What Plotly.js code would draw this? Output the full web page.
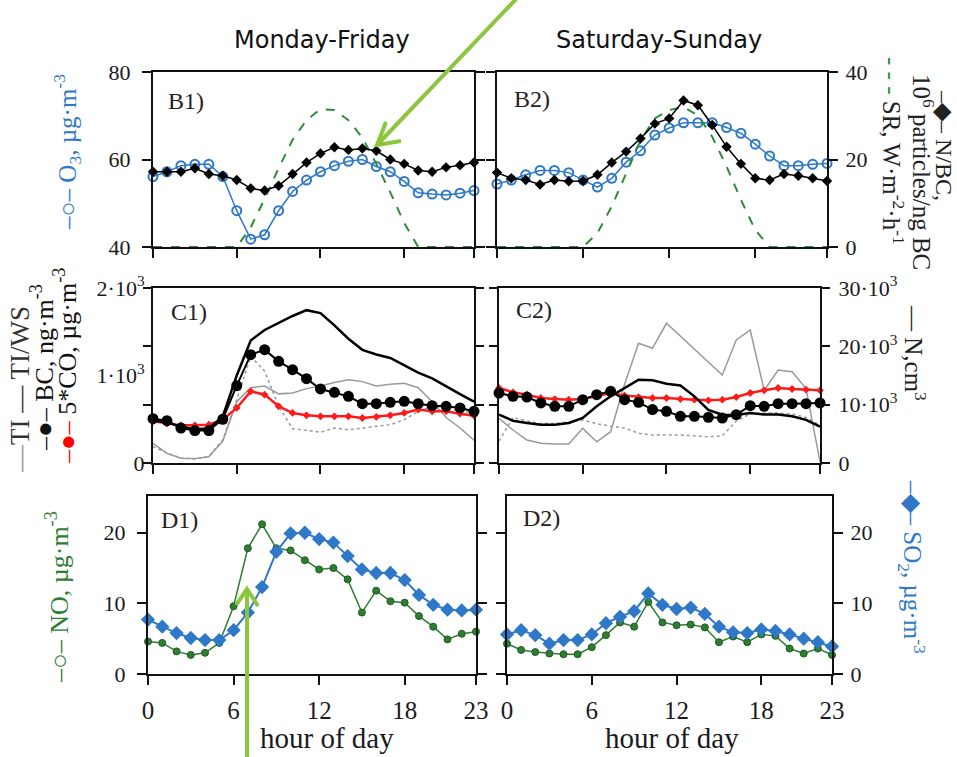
<!DOCTYPE html>
<html><head><meta charset="utf-8">
<script src="https://cdn.plot.ly/plotly-3.0.1.min.js"></script>
<style>html,body{margin:0;padding:0;background:#fff}#chart{width:957px;height:757px}</style>
</head><body><div id="chart"></div>
<script>
// ---------- DATA ----------
const hours = [0,1,2,3,4,5,6,7,8,9,10,11,12,13,14,15,16,17,18,19,20,21,22,23];
const xTickVals = [0,6,12,18,23];
const xTickText = ['0','6','12','18','23'];

// B: O3 (left axis), N/BC and SR (right axis)
const o3Weekday  = [56.1,57.2,58.6,58.9,58.9,56.1,48.3,41.8,42.8,48.3,52.7,55.3,57.2,58.6,59.6,60.0,58.4,57.2,55.0,52.4,52.1,51.9,52.3,52.9];
const nbcWeekday = [17.2,17.2,17.2,18.0,16.7,16.3,15.3,13.4,12.9,14.0,16.7,19.3,21.4,22.8,22.2,22.5,22.0,20.0,19.0,17.5,17.2,18.2,18.7,19.3];
const srWeekday  = [0,0,0,0,0,0,0,4.5,11,18,24.5,29,31.5,31.3,29,25,19,12.5,5.5,0,0,0,0,0];
const o3Weekend  = [54.4,55.3,56.5,57.5,57.5,57.0,55.3,53.7,55.7,59.4,62.0,65.6,67.2,68.4,68.4,68.4,67.3,66.0,63.5,60.8,58.6,58.6,58.9,59.1];
const nbcWeekend = [17.0,15.7,15.3,14.3,15.3,15.0,15.1,16.5,19.3,21.8,24.8,28.2,29.4,33.5,32.4,27.9,22.9,19.0,15.7,15.3,16.7,16.3,15.7,15.1];
const srWeekend  = [0,0,0,0,0,0,0,3.2,9.3,16.8,24.4,29.4,31.3,32.0,30.1,25.2,18.4,10.8,3.9,0,0,0,0,0];

// C: BC, 5*CO, TI, TI/WS (left axis), N (right axis)
const bcWeekday   = [507,484,400,370,370,500,884,1238,1295,1162,1067,964,846,808,762,678,678,693,705,678,655,648,629,591];
const coWeekday   = [476,450,430,430,438,495,629,819,781,648,572,545,533,533,533,514,526,545,572,610,591,591,564,541];
const nWeekday    = [7300,7000,6200,5800,5900,8000,15000,21000,22800,24000,25200,26200,25700,23600,21300,19400,18600,18000,16700,15500,14500,13100,11800,10500];
const tiWeekday   = [225,110,55,50,72,250,700,860,880,790,800,850,880,920,950,930,880,900,910,860,700,520,400,260];
const tiwsWeekday = [190,114,57,46,76,267,724,1219,1050,650,390,375,350,400,380,400,419,438,495,591,648,629,591,572];
const bcWeekend   = [800,762,754,686,648,648,724,781,819,724,693,610,591,533,533,522,514,552,655,648,678,678,678,686];
const coWeekend   = [857,808,781,743,731,724,731,762,800,770,754,743,743,731,724,716,724,754,800,831,857,846,838,831];
const nWeekend    = [8286,7257,6857,6571,6571,6857,7714,9714,11429,12857,14286,14200,13600,13300,11429,9086,8286,8229,8571,8300,8300,8000,7400,6229];
const tiWeekend   = [510,377,263,225,217,217,396,243,358,900,1368,1311,1597,1450,1300,1150,1006,1406,1520,830,1063,1043,850,15];
const tiwsWeekend = [250,520,480,450,450,470,490,450,420,400,340,320,320,320,310,300,310,480,560,570,570,560,520,430];

// D: NO, SO2
const so2Weekday = [7.7,6.7,5.8,5.1,4.8,4.8,6.2,8.7,12.3,17.3,19.9,20.0,19.1,18.6,16.7,14.8,14.3,14.3,13.3,11.2,9.8,9.1,9.0,9.1];
const noWeekday  = [4.6,4.4,3.2,2.7,3.0,4.4,9.6,17.8,21.2,17.8,17.5,16.1,14.8,15.0,13.4,8.7,11.8,10.3,10.1,8.2,6.7,4.9,5.7,6.0];
const so2Weekend = [5.6,6.2,5.5,4.3,4.8,4.8,5.6,7.2,8.1,8.9,11.4,9.8,9.2,9.4,8.5,6.7,5.9,5.8,6.3,6.1,5.6,5.0,4.5,3.9];
const noWeekend  = [4.3,3.4,3.1,2.9,2.8,2.8,3.8,5.5,7.3,6.7,10.2,7.3,6.9,7.0,6.6,4.5,5.3,4.5,5.6,5.4,3.6,2.9,3.6,2.7];

// ---------- STYLE / LAYOUT ----------
const W = 957, H = 757;
const fx = p => p / W, fy = p => 1 - p / H;
const SERIF = '"Liberation Serif","Times New Roman",serif';
const SANS = '"DejaVu Sans",sans-serif';
const BLUE = '#2f78c8', GREEN = '#2e7d32', SRGREEN = '#2e8b3a', RED = '#ff1a1a', GRAY = '#9a9a9a', INK = '#111';

const panels = [
  {xd:[153,474], yd:[72,247],  kind:'B', col:1},
  {xd:[497,827], yd:[72,247],  kind:'B', col:2},
  {xd:[153,474], yd:[288,463], kind:'C', col:1},
  {xd:[499,820], yd:[288,463], kind:'C', col:2},
  {xd:[148,476], yd:[496,674], kind:'D', col:1},
  {xd:[507,832], yd:[496,674], kind:'D', col:2}
];
const scales = {
  B:{lr:[40,80], lt:[40,60,80], ltt:['40','60','80'], rr:[0,40], rt:[0,20,40], rtt:['0','20','40'], lticks:'outside'},
  C:{lr:[0,2000], lt:[0,1000,2000], ltt:['0','1·10<sup>3</sup>','2·10<sup>3</sup>'], rr:[0,30000], rt:[0,10000,20000,30000], rtt:['0','10·10<sup>3</sup>','20·10<sup>3</sup>','30·10<sup>3</sup>'], lticks:''},
  D:{lr:[0,25.2], lt:[0,10,20], ltt:['0','10','20'], rr:[0,25.2], rt:[0,10,20], rtt:['0','10','20'], lticks:'outside'}
};
const sfx = i => (i === 1 ? '' : String(i));

const layout = {
  width: W, height: H, margin:{l:0,r:0,t:0,b:0},
  paper_bgcolor:'#fff', plot_bgcolor:'rgba(0,0,0,0)', showlegend:false,
  font:{family:SERIF, color:INK}, annotations:[], shapes:[]
};
const tickFont = {family:SERIF, size:22, color:'#1a1a22'};

panels.forEach((p, k) => {
  const i = k + 1, s = scales[p.kind];
  layout['xaxis'+sfx(i)] = {
    domain:[fx(p.xd[0]), fx(p.xd[1])], range:[0,23], anchor:'y'+sfx(i),
    showline:true, linewidth:2, linecolor:INK, mirror:true,
    ticks:'outside', ticklen:9, tickwidth:2, tickcolor:INK,
    tickmode:'array', tickvals:xTickVals, ticktext:xTickText,
    showticklabels: p.kind === 'D', tickfont:{family:SERIF,size:25,color:'#1a1a22'}, ticklabelstandoff:4,
    showgrid:false, zeroline:false, fixedrange:true
  };
  layout['xaxis'+(i+6)] = {
    overlaying:'x'+sfx(i), anchor:'y'+sfx(i), side:'bottom', range:[0,23],
    ticks:'inside', ticklen:9, tickwidth:2, tickcolor:INK, tickmode:'array', tickvals:[6,12,18],
    showticklabels:false, showline:false, showgrid:false, zeroline:false
  };
  layout['yaxis'+sfx(i)] = {
    domain:[fy(p.yd[1]), fy(p.yd[0])], range:s.lr, anchor:'x'+sfx(i),
    showline:true, linewidth:2, linecolor:INK, mirror:'ticks',
    ticks:s.lticks, ticklen:9, tickwidth:2, tickcolor:INK,
    tickmode:'array', tickvals:s.lt, ticktext:s.ltt,
    showticklabels: p.col === 1, tickfont:tickFont, ticklabelstandoff: p.kind === 'C' ? 2 : 7,
    showgrid:false, zeroline:false, fixedrange:true
  };
  layout['yaxis'+(i+6)] = {
    overlaying:'y'+sfx(i), side:'right', anchor:'x'+sfx(i), range:s.rr,
    ticks:'outside', ticklen:9, tickwidth:2, tickcolor:INK, mirror:'ticks',
    tickmode:'array', tickvals:s.rt, ticktext:s.rtt,
    showticklabels: p.col === 2, tickfont:tickFont, ticklabelstandoff:4,
    showline:false, showgrid:false, zeroline:false, fixedrange:true
  };
  layout['yaxis'+(i+12)] = {
    overlaying:'y'+sfx(i), side:'left', anchor:'x'+sfx(i), range:s.rr,
    ticks:'inside', ticklen:9, tickwidth:2, tickcolor:INK, mirror:'ticks',
    tickmode:'array', tickvals:s.rt, showticklabels:false,
    showline:false, showgrid:false, zeroline:false
  };
});

// ---------- TRACES ----------
function series(y, i, right, o) {
  const t = {
    x: hours, y: y, xaxis: 'x'+sfx(i), yaxis: right ? 'y'+(i+6) : 'y'+sfx(i),
    mode: o.marker ? 'lines+markers' : 'lines',
    line: {color:o.color, width:o.width || 1.5, dash:o.dash || 'solid'},
    cliponaxis:false, hoverinfo:'skip'
  };
  if (o.marker) t.marker = o.marker;
  return t;
}
const mO3  = {symbol:'circle-open', size:9, color:BLUE, line:{width:2, color:BLUE}};
const mNBC = {symbol:'diamond', size:8, color:'#000'};
const mBC  = {symbol:'circle', size:11, color:'#000'};
const mCO  = {symbol:'diamond', size:6, color:RED};
const mNO  = {symbol:'circle', size:7, color:GREEN, line:{width:1, color:'#1b5e20'}};
const mSO2 = {symbol:'diamond', size:11, color:BLUE};

const data = [
  // B1
  series(srWeekday, 1, true, {color:SRGREEN, width:2, dash:'dash'}),
  series(o3Weekday, 1, false, {color:BLUE, width:1.5, marker:mO3}),
  series(nbcWeekday, 1, true, {color:'#000', width:1.5, marker:mNBC}),
  // B2
  series(srWeekend, 2, true, {color:SRGREEN, width:2, dash:'dash'}),
  series(o3Weekend, 2, false, {color:BLUE, width:1.5, marker:mO3}),
  series(nbcWeekend, 2, true, {color:'#000', width:1.5, marker:mNBC}),
  // C1
  series(tiWeekday, 3, false, {color:GRAY, width:1.5}),
  series(tiwsWeekday, 3, false, {color:GRAY, width:1.5, dash:'dot'}),
  series(nWeekday, 3, true, {color:'#000', width:2.5}),
  series(coWeekday, 3, false, {color:RED, width:2.5, marker:mCO}),
  series(bcWeekday, 3, false, {color:'#000', width:2, marker:mBC}),
  // C2
  series(tiWeekend, 4, false, {color:GRAY, width:1.5}),
  series(tiwsWeekend, 4, false, {color:GRAY, width:1.5, dash:'dot'}),
  series(nWeekend, 4, true, {color:'#000', width:2.5}),
  series(coWeekend, 4, false, {color:RED, width:2.5, marker:mCO}),
  series(bcWeekend, 4, false, {color:'#000', width:2, marker:mBC}),
  // D1
  series(noWeekday, 5, false, {color:GREEN, width:1.5, marker:mNO}),
  series(so2Weekday, 5, true, {color:BLUE, width:2, marker:mSO2}),
  // D2
  series(noWeekend, 6, false, {color:GREEN, width:1.5, marker:mNO}),
  series(so2Weekend, 6, true, {color:BLUE, width:2, marker:mSO2})
];

// ---------- TEXT ----------
function ann(text, x, y, o) {
  layout.annotations.push(Object.assign({
    text: text, xref:'paper', yref:'paper', x: fx(x), y: fy(y),
    xanchor:'center', yanchor:'middle', showarrow:false,
    font:{family:SERIF, size:25, color:INK}
  }, o || {}));
}
ann('Monday-Friday', 322, 40, {font:{family:SANS, size:24, color:INK}});
ann('Saturday-Sunday', 659, 40, {font:{family:SANS, size:24, color:INK}});
ann('hour of day', 327, 738, {font:{family:SERIF, size:29, color:'#1a1a22'}});
ann('hour of day', 672, 738, {font:{family:SERIF, size:29, color:'#1a1a22'}});

const plab = {family:SERIF, size:24, color:'#2a2020'};
ann('B1)', 166, 101, {xanchor:'left', font:plab});
ann('B2)', 512, 99, {xanchor:'left', font:plab});
ann('C1)', 169, 312, {xanchor:'left', font:plab});
ann('C2)', 514, 310, {xanchor:'left', font:plab});
ann('D1)', 159, 520, {xanchor:'left', font:plab});
ann('D2)', 521, 518, {xanchor:'left', font:plab});

// left axis legends (read bottom to top)
ann('–○– O<sub>3</sub>, µg·m<sup>-3</sup>', 67, 152, {textangle:-90, font:{family:SERIF, size:25, color:BLUE}});
ann('<span style="color:#999">—</span>TI — TI/WS', 20, 390, {textangle:-90, font:{family:SERIF, size:27, color:'#333'}});
ann('–●– BC, ng·m<sup>-3</sup>', 42, 368, {textangle:-90, font:{family:SERIF, size:26, color:INK}});
ann('<span style="color:#ff0000">–●–</span> 5*CO, µg·m<sup>-3</sup>', 65, 366, {textangle:-90, font:{family:SERIF, size:26, color:INK}});
ann('–○– NO, µg·m<sup>-3</sup>', 57, 597, {textangle:-90, font:{family:SERIF, size:26, color:GREEN}});

// right axis legends (read top to bottom)
ann('<span style="color:#2e8b3a">- - -</span> SR, W·m<sup>-2</sup>·h<sup>-1</sup>', 893, 151, {textangle:90, font:{family:SERIF, size:25, color:'#222'}});
ann('10<sup>6</sup> particles/ng BC', 923, 172, {textangle:90, font:{family:SERIF, size:25, color:'#222'}});
ann('–◆– N/BC,', 944, 145, {textangle:90, font:{family:SERIF, size:24, color:'#222'}});
ann('— N,cm<sup>3</sup>', 915, 353, {textangle:90, font:{family:SERIF, size:25, color:'#222'}});
ann('–◆– SO<sub>2</sub>, µg·m<sup>-3</sup>', 912, 567, {textangle:90, font:{family:SERIF, size:25, color:BLUE}});

// ---------- ARROWS (decoration) ----------
const P = (x, y) => fx(x).toFixed(5) + ',' + fy(y).toFixed(5);
const arrowStyle = {type:'path', xref:'paper', yref:'paper', line:{color:'#8cc63f', width:4}};
layout.shapes.push(Object.assign({path:'M '+P(519,-4)+' L '+P(377,145)+' M '+P(386,122)+' L '+P(377,145)+' L '+P(401,141)}, arrowStyle));
layout.shapes.push(Object.assign({path:'M '+P(247,760)+' L '+P(247,589)+' M '+P(236,605)+' L '+P(247,589)+' L '+P(258,606)}, arrowStyle));

Plotly.newPlot('chart', data, layout, {staticPlot:true, displayModeBar:false});
</script>
</body></html>
